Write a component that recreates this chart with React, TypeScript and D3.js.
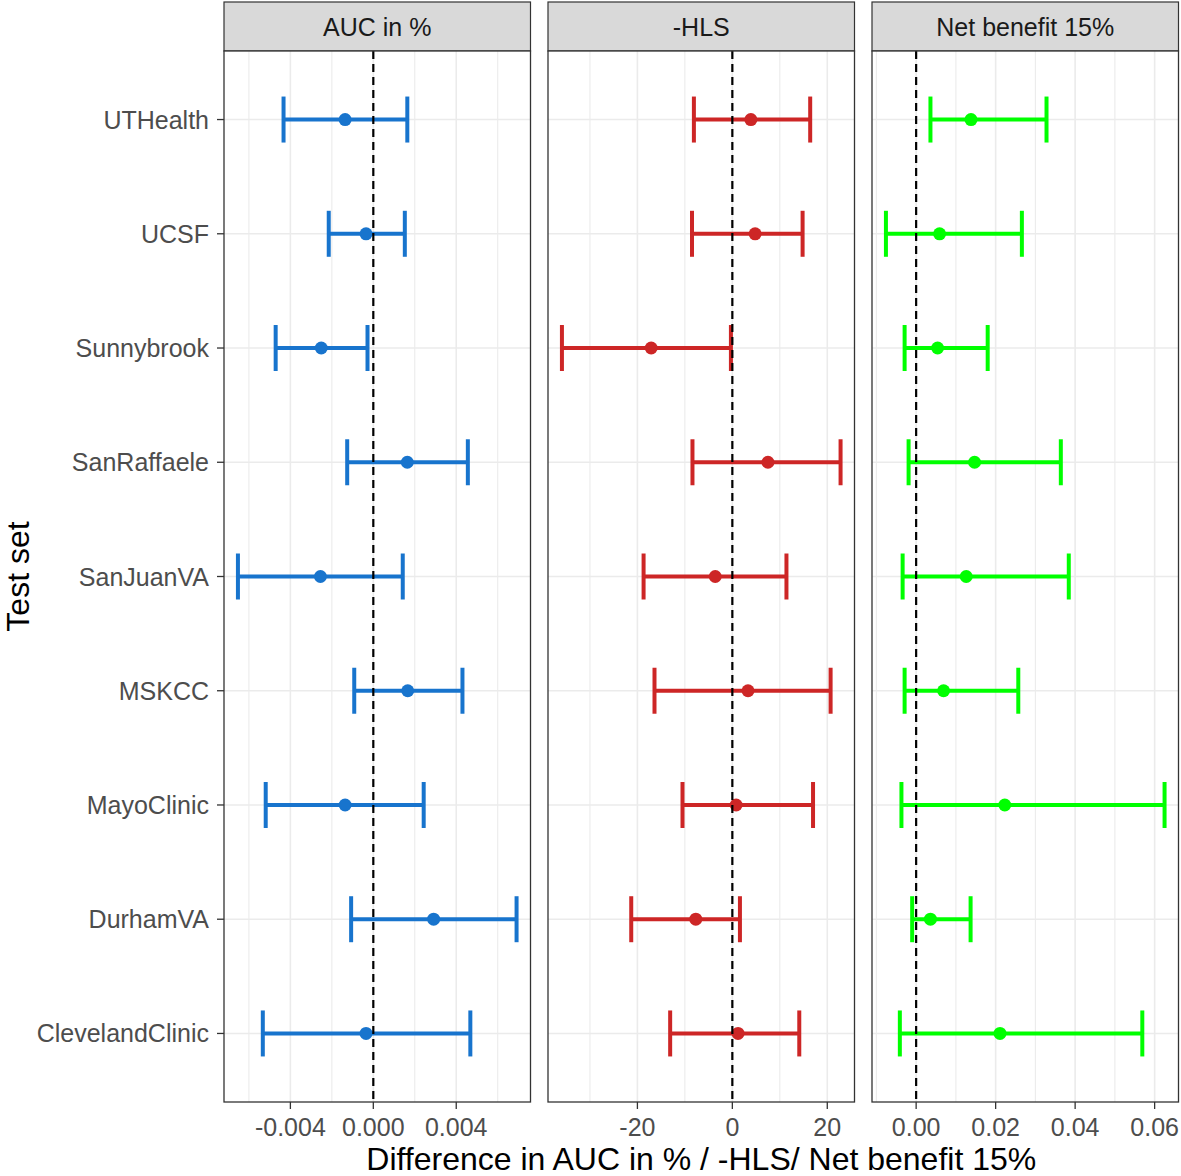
import React from "react";
import * as d3 from "d3";

const categories = ["UTHealth", "UCSF", "Sunnybrook", "SanRaffaele", "SanJuanVA", "MSKCC", "MayoClinic", "DurhamVA", "ClevelandClinic"];

const panelTitles = ["AUC in %", "-HLS", "Net benefit 15%"];

const aucLower = [-0.00433, -0.00215, -0.00471, -0.00126, -0.00653, -0.00092, -0.00519, -0.00107, -0.00533];
const aucPoint = [-0.00136, -0.00035, -0.00251, 0.00164, -0.00255, 0.00166, -0.00136, 0.00291, -0.00035];
const aucUpper = [0.00164, 0.00152, -0.00028, 0.00456, 0.00142, 0.0043, 0.00243, 0.00691, 0.00468];

const hlsLower = [-8.1, -8.5, -35.9, -8.4, -18.7, -16.4, -10.5, -21.3, -13.1];
const hlsPoint = [3.9, 4.8, -17.1, 7.5, -3.6, 3.3, 0.8, -7.7, 1.2];
const hlsUpper = [16.4, 14.8, -0.3, 22.8, 11.4, 20.7, 17.0, 1.6, 14.1];

const nbLower = [0.0036, -0.0076, -0.0029, -0.0019, -0.0034, -0.0029, -0.0037, -0.001, -0.0041];
const nbPoint = [0.0138, 0.0059, 0.0054, 0.0147, 0.0126, 0.0069, 0.0223, 0.0036, 0.0211];
const nbUpper = [0.0328, 0.0266, 0.018, 0.0364, 0.0384, 0.0257, 0.0625, 0.0137, 0.0569];

const aucTicks = [-0.004, 0, 0.004];
const hlsTicks = [-20, 0, 20];
const nbTicks = [0, 0.02, 0.04, 0.06];

const panelColors = ["#1874CD", "#CD2626", "#00FF00"];
const tickFormats = [".3f", "d", ".2f"];

const W = 1181;
const H = 1176;
const FONT = "'Liberation Sans', Arial, Helvetica, sans-serif";

const panelLeft = [224, 548, 872];
const panelW = 306.5;
const stripTop = 2;
const stripBottom = 51;
const panelBottom = 1102;

export default function App() {
  const y = d3.scalePoint<string>().domain(categories).range([stripBottom, panelBottom]).padding(0.6);

  const panels = [
    { lower: aucLower, point: aucPoint, upper: aucUpper, ticks: aucTicks },
    { lower: hlsLower, point: hlsPoint, upper: hlsUpper, ticks: hlsTicks },
    { lower: nbLower, point: nbPoint, upper: nbUpper, ticks: nbTicks },
  ];

  return (
    <svg width={W} height={H} style={{ position: "absolute", left: 0, top: 0, background: "#fff" }} fontFamily={FONT}>
      <rect x={0} y={0} width={W} height={H} fill="#fff" />
      {panels.map((p, pi) => {
        const lo = d3.min(p.lower)!;
        const hi = d3.max(p.upper)!;
        const pad = (hi - lo) * 0.05;
        const x0 = panelLeft[pi];
        const x = d3.scaleLinear().domain([lo - pad, hi + pad]).range([x0, x0 + panelW]);
        const step = p.ticks[1] - p.ticks[0];
        const minors: number[] = [];
        for (let v = p.ticks[0] - step / 2; v <= hi + pad; v += step) {
          if (v >= lo - pad) minors.push(v);
        }
        const fmt = d3.format(tickFormats[pi]);
        const color = panelColors[pi];
        return (
          <g key={pi}>
            <rect x={x0} y={stripTop} width={panelW} height={stripBottom - stripTop} fill="#D9D9D9" stroke="#333333" strokeWidth={1.2} />
            <text x={x0 + panelW / 2} y={(stripTop + stripBottom) / 2 + 9} textAnchor="middle" fontSize={25} fill="#1A1A1A">
              {panelTitles[pi]}
            </text>
            <rect x={x0} y={stripBottom} width={panelW} height={panelBottom - stripBottom} fill="#fff" />
            {minors.map((v, i) => (
              <line key={"mn" + i} x1={x(v)} x2={x(v)} y1={stripBottom} y2={panelBottom} stroke="#EBEBEB" strokeWidth={1.1} />
            ))}
            {p.ticks.map((v, i) => (
              <line key={"mj" + i} x1={x(v)} x2={x(v)} y1={stripBottom} y2={panelBottom} stroke="#EBEBEB" strokeWidth={1.6} />
            ))}
            {categories.map((c) => (
              <line key={"hg" + c} x1={x0} x2={x0 + panelW} y1={y(c)} y2={y(c)} stroke="#EBEBEB" strokeWidth={1.6} />
            ))}
            {categories.map((c, i) => {
              const cy = y(c)!;
              return (
                <g key={"eb" + c} stroke={color} strokeWidth={4} fill="none">
                  <line x1={x(p.lower[i])} x2={x(p.upper[i])} y1={cy} y2={cy} />
                  <line x1={x(p.lower[i])} x2={x(p.lower[i])} y1={cy - 23} y2={cy + 23} />
                  <line x1={x(p.upper[i])} x2={x(p.upper[i])} y1={cy - 23} y2={cy + 23} />
                </g>
              );
            })}
            {categories.map((c, i) => (
              <circle key={"pt" + c} cx={x(p.point[i])} cy={y(c)} r={6.5} fill={color} />
            ))}
            <line x1={x(0)} x2={x(0)} y1={stripBottom} y2={panelBottom} stroke="#000" strokeWidth={2.2} strokeDasharray="8,5" />
            <rect x={x0} y={stripBottom} width={panelW} height={panelBottom - stripBottom} fill="none" stroke="#333333" strokeWidth={1.3} />
            {p.ticks.map((v, i) => (
              <g key={"xt" + i}>
                <line x1={x(v)} x2={x(v)} y1={panelBottom} y2={panelBottom + 7} stroke="#333333" strokeWidth={1.3} />
                <text x={x(v)} y={1136} textAnchor="middle" fontSize={25} fill="#4D4D4D">
                  {fmt(v).replace("\u2212", "-")}
                </text>
              </g>
            ))}
          </g>
        );
      })}
      {categories.map((c) => (
        <g key={"yt" + c}>
          <line x1={panelLeft[0] - 7} x2={panelLeft[0]} y1={y(c)} y2={y(c)} stroke="#333333" strokeWidth={1.3} />
          <text x={209} y={y(c)! + 9} textAnchor="end" fontSize={25} fill="#4D4D4D">
            {c}
          </text>
        </g>
      ))}
      <text x={(panelLeft[0] + panelLeft[2] + panelW) / 2} y={1170} textAnchor="middle" fontSize={32} fill="#000">
        Difference in AUC in % / -HLS/ Net benefit 15%
      </text>
      <text transform={`translate(29,${(stripBottom + panelBottom) / 2}) rotate(-90)`} textAnchor="middle" fontSize={32} fill="#000">
        Test set
      </text>
    </svg>
  );
}
